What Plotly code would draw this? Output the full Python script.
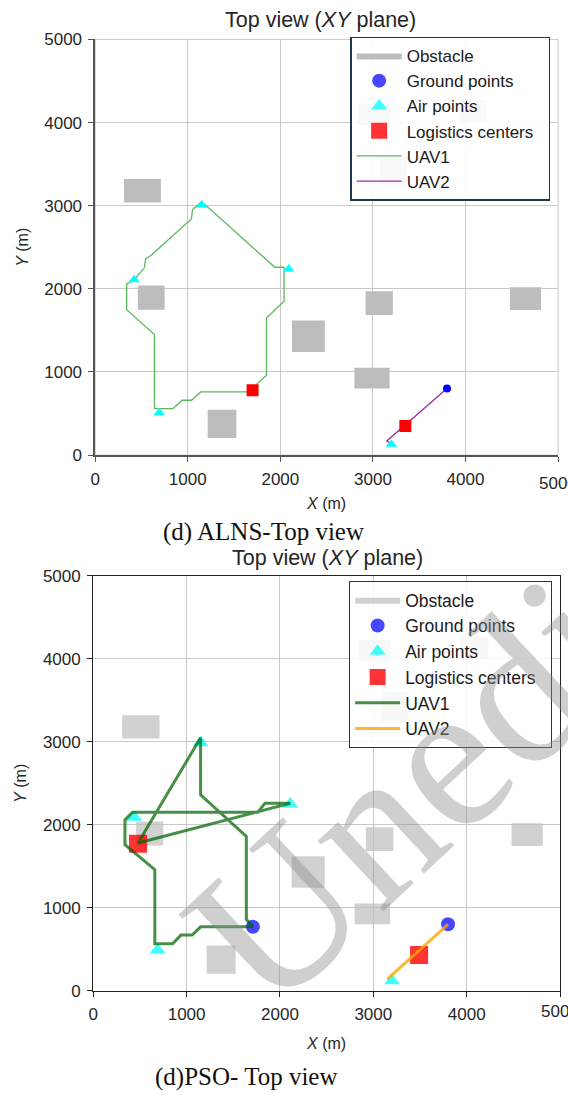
import plotly.graph_objects as go

W, H = 568, 1095

# ---------------- data ----------------
obs_x0 = [310, 460, 2125, 2920, 4480, 2800, 1215, 2840, 3930, 3080]
obs_x1 = [710, 750, 2480, 3215, 4815, 3180, 1525, 3180, 4230, 3370]
obs_y0 = [3040, 1750, 1240, 1685, 1745, 800, 205, 3970, 4000, 3230]
obs_y1 = [3320, 2040, 1620, 1970, 2020, 1050, 545, 4230, 4270, 3600]

# ALNS (top)
alns_air_x = [1150, 2090, 420, 690, 3200]
alns_air_y = [3010, 2240, 2110, 510, 130]
alns_ground_x = [3800]
alns_ground_y = [800]
alns_lc_x = [1700, 3350]
alns_lc_y = [780, 350]
alns_u1_x = [1700, 1730, 1850, 1850, 2040, 2040, 1940, 1790, 1150, 1050, 1040, 600, 545, 530, 420,
             340, 340, 640, 640, 840, 940, 1040, 1140, 1700]
alns_u1_y = [780, 840, 960, 1650, 1850, 2260, 2260, 2410, 3050, 2950, 2840, 2400, 2360, 2250, 2110,
             2060, 1750, 1450, 560, 560, 660, 660, 760, 760]
alns_u2_x = [3800, 3150, 3180]
alns_u2_y = [800, 170, 150]

# PSO (bottom)
pso_air_x = [1150, 2110, 440, 690, 3200]
pso_air_y = [2990, 2250, 2090, 490, 120]
pso_ground_x = [1710, 3800]
pso_ground_y = [770, 800]
pso_lc_x = [480, 3490]
pso_lc_y = [1770, 430]
pso_u1_x = [480, 1150, 1150, 1640, 1640, 1710, 1150, 1060, 940, 850, 660, 660, 340, 340, 420,
            1760, 1840, 2110, 480]
pso_u1_y = [1780, 3050, 2360, 1860, 860, 770, 770, 670, 670, 565, 565, 1460, 1760, 2060, 2150,
            2150, 2260, 2260, 1780]
pso_u2_x = [3800, 3150]
pso_u2_y = [800, 140]

ticks = [0, 1000, 2000, 3000, 4000, 5000]
tick_text = ["0", "1000", "2000", "3000", "4000", "5000"]

legend_names = ["Obstacle", "Ground points", "Air points", "Logistics centers\u00a0\u00a0", "UAV1", "UAV2"]


def obstacle_poly():
    xs, ys = [], []
    for a, b, c, d in zip(obs_x0, obs_x1, obs_y0, obs_y1):
        xs += [a, b, b, a, a, None]
        ys += [c, c, d, d, c, None]
    return xs, ys


fig = go.Figure()
ox, oy = obstacle_poly()

# ---------- top panel (ALNS) ----------
fig.add_trace(go.Scatter(x=ox, y=oy, fill="toself", mode="lines", line=dict(width=0),
                         fillcolor="#bdbdbd", name=legend_names[0], legend="legend",
                         legendrank=1, xaxis="x", yaxis="y", hoverinfo="skip"))
fig.add_trace(go.Scatter(x=alns_u1_x, y=alns_u1_y, mode="lines", line=dict(color="#5cb85c", width=1.3),
                         name=legend_names[4], legend="legend", legendrank=5, xaxis="x", yaxis="y"))
fig.add_trace(go.Scatter(x=alns_u2_x, y=alns_u2_y, mode="lines", line=dict(color="#9b2d9b", width=1.3),
                         name=legend_names[5], legend="legend", legendrank=6, xaxis="x", yaxis="y"))
fig.add_trace(go.Scatter(x=alns_ground_x, y=alns_ground_y, mode="markers",
                         marker=dict(symbol="circle", color="#0000ff", size=8),
                         showlegend=False, xaxis="x", yaxis="y"))
fig.add_trace(go.Scatter(x=alns_air_x, y=alns_air_y, mode="markers",
                         marker=dict(symbol="triangle-up", color="#00ffff", size=10),
                         showlegend=False, xaxis="x", yaxis="y"))
fig.add_trace(go.Scatter(x=alns_lc_x, y=alns_lc_y, mode="markers",
                         marker=dict(symbol="square", color="#ff0000", size=12),
                         showlegend=False, xaxis="x", yaxis="y"))
# legend entries for the top panel markers (legend-key styling only)
fig.add_trace(go.Scatter(x=[None], y=[None], mode="markers",
                         marker=dict(symbol="circle", color="rgba(0,0,255,0.72)", size=14),
                         name=legend_names[1], legend="legend", legendrank=2, xaxis="x", yaxis="y"))
fig.add_trace(go.Scatter(x=[None], y=[None], mode="markers",
                         marker=dict(symbol="triangle-up", color="rgba(0,255,255,0.75)", size=14),
                         name=legend_names[2], legend="legend", legendrank=3, xaxis="x", yaxis="y"))
fig.add_trace(go.Scatter(x=[None], y=[None], mode="markers",
                         marker=dict(symbol="square", color="rgba(255,0,0,0.8)", size=17),
                         name=legend_names[3], legend="legend", legendrank=4, xaxis="x", yaxis="y"))

# ---------- bottom panel (PSO) ----------
fig.add_trace(go.Scatter(x=ox, y=oy, fill="toself", mode="lines", line=dict(width=0),
                         fillcolor="rgba(190,190,190,0.7)", name=legend_names[0], legend="legend2",
                         legendrank=1, xaxis="x2", yaxis="y2", hoverinfo="skip"))
fig.add_trace(go.Scatter(x=pso_ground_x, y=pso_ground_y, mode="markers",
                         marker=dict(symbol="circle", color="rgba(0,0,255,0.72)", size=14),
                         name=legend_names[1], legend="legend2", legendrank=2, xaxis="x2", yaxis="y2"))
fig.add_trace(go.Scatter(x=pso_air_x, y=pso_air_y, mode="markers",
                         marker=dict(symbol="triangle-up", color="rgba(0,255,255,0.75)", size=14),
                         name=legend_names[2], legend="legend2", legendrank=3, xaxis="x2", yaxis="y2"))
fig.add_trace(go.Scatter(x=pso_lc_x, y=pso_lc_y, mode="markers",
                         marker=dict(symbol="square", color="rgba(255,0,0,0.8)", size=18),
                         name=legend_names[3], legend="legend2", legendrank=4, xaxis="x2", yaxis="y2"))
fig.add_trace(go.Scatter(x=pso_u1_x, y=pso_u1_y, mode="lines",
                         line=dict(color="rgba(0,100,0,0.72)", width=3),
                         name=legend_names[4], legend="legend2", legendrank=5, xaxis="x2", yaxis="y2"))
fig.add_trace(go.Scatter(x=pso_u2_x, y=pso_u2_y, mode="lines",
                         line=dict(color="rgba(255,165,0,0.8)", width=3),
                         name=legend_names[5], legend="legend2", legendrank=6, xaxis="x2", yaxis="y2"))

FONT = "Liberation Sans, Arial, sans-serif"
SERIF = "Liberation Serif, Times New Roman, serif"


def px_x(p):
    return p / W


def px_y(p):
    return 1 - p / H


common_axis = dict(range=[0, 5000], tickvals=ticks, ticktext=tick_text, showgrid=True,
                   gridcolor="#c9c9c9", gridwidth=1, zeroline=False, ticks="outside", ticklen=5,
                   ticklabelstandoff=3,
                   tickfont=dict(family=FONT, size=17, color="#262626"),
                   title_font=dict(family=FONT, size=16, color="#262626"))

fig.update_layout(
    width=W, height=H, margin=dict(l=0, r=0, t=0, b=0),
    paper_bgcolor="white", plot_bgcolor="white",
    xaxis=dict(domain=[px_x(91), px_x(558)], anchor="y", showline=True, linecolor="#555555",
               linewidth=1.5, tickcolor="#555555", title=dict(text="<i>X</i> (m)", standoff=10),
               **common_axis),
    yaxis=dict(domain=[px_y(454), px_y(31)], anchor="x", showline=True, linecolor="#555555",
               linewidth=1.5, tickcolor="#555555", title=dict(text="<i>Y</i> (m)", standoff=12),
               **common_axis),
    xaxis2=dict(domain=[px_x(89), px_x(560)], anchor="y2", showline=True, mirror=True,
                linecolor="#222222", linewidth=1.2, tickcolor="#222222",
                title=dict(text="<i>X</i> (m)", standoff=14), **common_axis),
    yaxis2=dict(domain=[px_y(999), px_y(577)], anchor="x2", showline=True, mirror=True,
                linecolor="#222222", linewidth=1.2, tickcolor="#222222",
                title=dict(text="<i>Y</i> (m)", standoff=12), **common_axis),
    legend=dict(x=px_x(550), y=px_y(28), xanchor="right", yanchor="top",
                bgcolor="rgba(255,255,255,0.9)", bordercolor="#1d3a4c", borderwidth=1.5,
                font=dict(family=FONT, size=17, color="#1a1a1a"), itemwidth=45,
                traceorder="normal", tracegroupgap=0),
    legend2=dict(x=px_x(552), y=px_y(582), xanchor="right", yanchor="top",
                 bgcolor="rgba(255,255,255,0.85)", bordercolor="#333333", borderwidth=1,
                 font=dict(family=FONT, size=17.5, color="#1a1a1a"), itemwidth=45,
                 traceorder="normal", tracegroupgap=0),
    showlegend=True,
    shapes=[dict(type="rect", xref="x domain", yref="y domain", x0=0, x1=1, y0=0, y1=1,
                 line=dict(color="#c9c9c9", width=1), layer="below")],
)

# last x tick label (cut by the image edge, as in the original)
fig.add_annotation(text=tick_text[-1], x=ticks[-1], xref="x", y=px_y(483), yref="paper",
                   xanchor="center", yanchor="middle", showarrow=False,
                   font=dict(family=FONT, size=17, color="#262626"))
fig.add_annotation(text=tick_text[-1], x=ticks[-1], xref="x2", y=px_y(1020), yref="paper",
                   xanchor="center", yanchor="middle", showarrow=False,
                   font=dict(family=FONT, size=17, color="#262626"))

# titles and captions
fig.add_annotation(text="Top view (<i>XY</i> plane)", x=px_x(318), y=px_y(11), xref="paper", yref="paper",
                   xanchor="center", yanchor="middle", showarrow=False,
                   font=dict(family=FONT, size=21.5, color="#262626"))
fig.add_annotation(text="Top view (<i>XY</i> plane)", x=px_x(325), y=px_y(559), xref="paper", yref="paper",
                   xanchor="center", yanchor="middle", showarrow=False,
                   font=dict(family=FONT, size=21.5, color="#262626"))
fig.add_annotation(text="(d) ALNS-Top view", x=px_x(261), y=px_y(532), xref="paper", yref="paper",
                   xanchor="center", yanchor="middle", showarrow=False,
                   font=dict(family=SERIF, size=25, color="#111111"))
fig.add_annotation(text="(d)PSO- Top view", x=px_x(244), y=px_y(1087), xref="paper", yref="paper",
                   xanchor="center", yanchor="middle", showarrow=False,
                   font=dict(family=SERIF, size=25, color="#111111"))
# watermark
fig.add_annotation(text="Unedited", x=px_x(501), y=px_y(707), xref="paper", yref="paper",
                   xanchor="center", yanchor="middle", showarrow=False, textangle=-43,
                   font=dict(family=SERIF, size=210, color="rgba(140,140,140,0.42)"))

fig.write_html("out.html")
